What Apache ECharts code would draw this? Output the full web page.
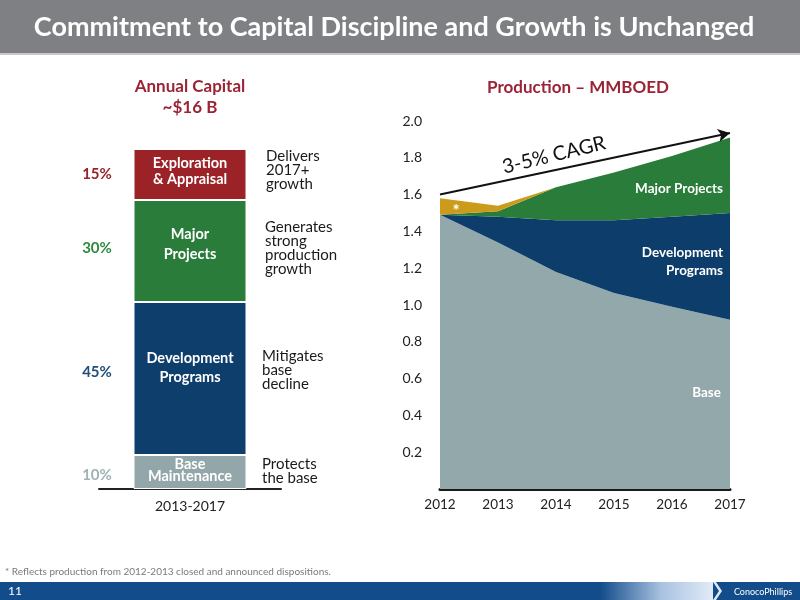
<!DOCTYPE html>
<html>
<head>
<meta charset="utf-8">
<script src="https://cdn.jsdelivr.net/npm/echarts@6/dist/echarts.min.js"></script>
<style>
html,body{margin:0;padding:0;background:#fff;}
#c{width:800px;height:600px;}
</style>
</head>
<body>
<div id="c"></div>
<script>
// ---- Left chart: Annual Capital split (percent) ----
var capCategory = ['2013-2017'];
var capNames = ['Base\nMaintenance', 'Development\nPrograms', 'Major\nProjects', 'Exploration\n& Appraisal'];
var capValues = [10, 45, 30, 15];
var capPctLabels = ['10%', '45%', '30%', '15%'];
var capNotes = ['Protects\nthe base', 'Mitigates\nbase\ndecline', 'Generates\nstrong\nproduction\ngrowth', 'Delivers\n2017+\ngrowth'];

// ---- Right chart: Production MMBOED ----
var years = ['2012', '2013', '2014', '2015', '2016', '2017'];
var baseProd = [1.49, 1.34, 1.18, 1.065, 0.99, 0.92];
var devProd = [0, 0.14, 0.28, 0.395, 0.49, 0.58];
var majorProd = [0, 0.03, 0.18, 0.26, 0.33, 0.41];
var dispProd = [0.09, 0.03, 0, 0, 0, 0];
var yTicks = [0, 0.2, 0.4, 0.6, 0.8, 1.0, 1.2, 1.4, 1.6, 1.8, 2.0];
var cagrStart = 1.60, cagrEnd = 1.935;

var FONT = 'Lato';
var capColors = ['#93a7aa', '#0e3e6c', '#2a7c3a', '#9b2227'];
var pctColors = ['#9fb2b5', '#1f4e79', '#2e8b3e', '#9b2227'];
var lineHeights = [12, 19, 20, 16];
var labelOffsets = [[0, -2], [0, -11], [0, -7], [0, -3]];

var chart = echarts.init(document.getElementById('c'), null, {renderer: 'canvas'});

var capSeries = capValues.map(function (v, i) {
  return {
    type: 'bar',
    name: capNames[i],
    stack: 'cap',
    xAxisIndex: 0, yAxisIndex: 0,
    barWidth: 113,
    data: [v],
    itemStyle: {color: capColors[i], borderColor: '#fff', borderWidth: 1},
    label: {
      show: true, position: 'inside', formatter: capNames[i],
      color: '#fff', fontFamily: FONT, fontWeight: 'bold', fontSize: 14.5,
      lineHeight: lineHeights[i], offset: labelOffsets[i]
    },
    emphasis: {disabled: true}
  };
});

function area(name, data, color, extra) {
  var s = {
    type: 'line', name: name, stack: 'prod',
    xAxisIndex: 1, yAxisIndex: 1,
    data: data, symbol: 'none', smooth: false,
    lineStyle: {width: 0},
    areaStyle: {color: color, opacity: 1},
    emphasis: {disabled: true}
  };
  if (extra) for (var k in extra) s[k] = extra[k];
  return s;
}

var option = {
  animation: false,
  textStyle: {fontFamily: FONT},
  grid: [
    {left: 99, width: 182, top: 149, bottom: 111},
    {left: 440, right: 70, top: 121, bottom: 111}
  ],
  xAxis: [
    {
      type: 'category', gridIndex: 0, data: capCategory,
      axisLine: {lineStyle: {color: '#222', width: 2}},
      axisTick: {show: false},
      axisLabel: {color: '#222', fontSize: 14, margin: 10, fontFamily: FONT}
    },
    {
      type: 'category', gridIndex: 1, data: years, boundaryGap: false,
      axisLine: {lineStyle: {color: '#1a1a1a', width: 3}},
      axisTick: {show: false},
      axisLabel: {color: '#222', fontSize: 13.5, margin: 9, fontFamily: FONT}
    }
  ],
  yAxis: [
    {type: 'value', gridIndex: 0, min: 0, max: 100, show: false},
    {
      type: 'value', gridIndex: 1, min: 0, max: 2.0, interval: 0.2,
      axisLine: {show: false}, axisTick: {show: false},
      splitLine: {show: false},
      axisLabel: {
        color: '#222', fontSize: 14, margin: 18, fontFamily: FONT,
        formatter: function (v) { return v === 0 ? '' : v.toFixed(1); }
      }
    }
  ],
  series: capSeries.concat([
    area('Base', baseProd, '#93a8ab'),
    area('Development Programs', devProd, '#0d3e6b'),
    area('Major Projects', majorProd, '#2a7c3a'),
    area('Dispositions', dispProd, '#cc9b1b', {
      markLine: {
        silent: true,
        symbol: ['none', 'arrow'], symbolSize: [10, 12],
        label: {show: false},
        lineStyle: {color: '#111', width: 2, type: 'solid'},
        data: [[{coord: [years[0], cagrStart]}, {coord: [years[years.length - 1], cagrEnd]}]]
      }
    })
  ])
};
chart.setOption(option);

// ---- annotations placed via chart coordinates ----
var g = [];
// header
g.push({type: 'rect', left: 0, top: 0, shape: {width: 800, height: 53}, style: {fill: '#7f8084'}, z: 10});
g.push({type: 'rect', left: 0, top: 53, shape: {width: 800, height: 2}, style: {fill: '#c8c8ca'}, z: 10});
g.push({type: 'text', x: 394, y: 27, z: 11, style: {
  text: 'Commitment to Capital Discipline and Growth is Unchanged',
  fill: '#fff', font: 'bold 27px ' + FONT, textAlign: 'center', textVerticalAlign: 'middle'}});
// footer bar
g.push({type: 'rect', left: 0, top: 582, shape: {width: 800, height: 18}, style: {fill: '#124c8a'}, z: 10});
g.push({type: 'rect', left: 600, top: 582, shape: {width: 113, height: 18}, z: 11, style: {
  fill: new echarts.graphic.LinearGradient(0, 0, 1, 0, [
    {offset: 0, color: 'rgba(18,76,138,1)'}, {offset: 0.55, color: 'rgba(170,195,225,1)'}, {offset: 1, color: 'rgba(225,235,248,1)'}])}});
g.push({type: 'polygon', z: 11, shape: {points: [[713, 582], [719, 591], [713, 600], [716, 600], [722, 591], [716, 582]]}, style: {fill: '#dfe8f3'}});
g.push({type: 'text', x: 8, y: 591, z: 12, style: {text: '11', fill: '#fff', font: '12px ' + FONT, textVerticalAlign: 'middle'}});
g.push({type: 'text', x: 763, y: 592, z: 12, style: {text: 'ConocoPhillips', fill: '#fff', font: '9px ' + FONT, textAlign: 'center', textVerticalAlign: 'middle'}});
// footnote
g.push({type: 'text', x: 5, y: 572, style: {text: '* Reflects production from 2012-2013 closed and announced dispositions.',
  fill: '#7a7a7a', font: '10px "Liberation Sans Narrow", ' + FONT, textVerticalAlign: 'middle'}});

// left chart titles
var capMid = chart.convertToPixel({xAxisIndex: 0, yAxisIndex: 0}, [capCategory[0], 0]);
g.push({type: 'text', x: capMid[0], y: 97, style: {text: 'Annual Capital\n~$16 B', fill: '#9b2335',
  font: 'bold 17px ' + FONT, textAlign: 'center', textVerticalAlign: 'middle', lineHeight: 21}});
// percent labels
var cum = 0;
var pctShift = [3, -6, -3, 0];
for (var i = 0; i < capValues.length; i++) {
  var mid = cum + capValues[i] / 2;
  var p = chart.convertToPixel({xAxisIndex: 0, yAxisIndex: 0}, [capCategory[0], mid]);
  g.push({type: 'text', x: 97, y: p[1] + pctShift[i], style: {text: capPctLabels[i], fill: pctColors[i],
    font: 'bold 15px ' + FONT, textAlign: 'center', textVerticalAlign: 'middle'}});
  cum += capValues[i];
}
var noteYs = [457, 349, 220, 149];
var noteXs = [262, 262, 265, 266];
for (var j = 0; j < capNotes.length; j++) {
  g.push({type: 'text', x: noteXs[j], y: noteYs[j], style: {text: capNotes[j], fill: '#1a1a1a',
    font: '15px ' + FONT, textVerticalAlign: 'top', lineHeight: 14}});
}

// right chart title
g.push({type: 'text', x: 578, y: 88, style: {text: 'Production \u2013 MMBOED', fill: '#9b2335',
  font: 'bold 17px ' + FONT, textAlign: 'center', textVerticalAlign: 'middle'}});
// area labels
g.push({type: 'text', x: 723, y: 189, z: 5, style: {text: 'Major Projects', fill: '#fff', font: 'bold 13.5px ' + FONT, textAlign: 'right', textVerticalAlign: 'middle'}});
g.push({type: 'text', x: 723, y: 262, z: 5, style: {text: 'Development\nPrograms', fill: '#fff', font: 'bold 13.5px ' + FONT, textAlign: 'right', textVerticalAlign: 'middle', lineHeight: 18}});
g.push({type: 'text', x: 721, y: 393, z: 5, style: {text: 'Base', fill: '#fff', font: 'bold 13.5px ' + FONT, textAlign: 'right', textVerticalAlign: 'middle'}});
var star = chart.convertToPixel({xAxisIndex: 1, yAxisIndex: 1}, [years[0], baseProd[0] + dispProd[0] / 2]);
g.push({type: 'text', x: star[0] + 16, y: star[1] + 5, z: 5, style: {text: '*', fill: '#fff', font: 'bold 17px ' + FONT, textAlign: 'center', textVerticalAlign: 'middle'}});
// CAGR text
g.push({type: 'text', x: 554, y: 155, rotation: 0.24, z: 5, style: {text: '3-5% CAGR', fill: '#111', font: '20px ' + FONT, textAlign: 'center', textVerticalAlign: 'middle'}});

chart.setOption({graphic: g});
</script>
</body>
</html>
